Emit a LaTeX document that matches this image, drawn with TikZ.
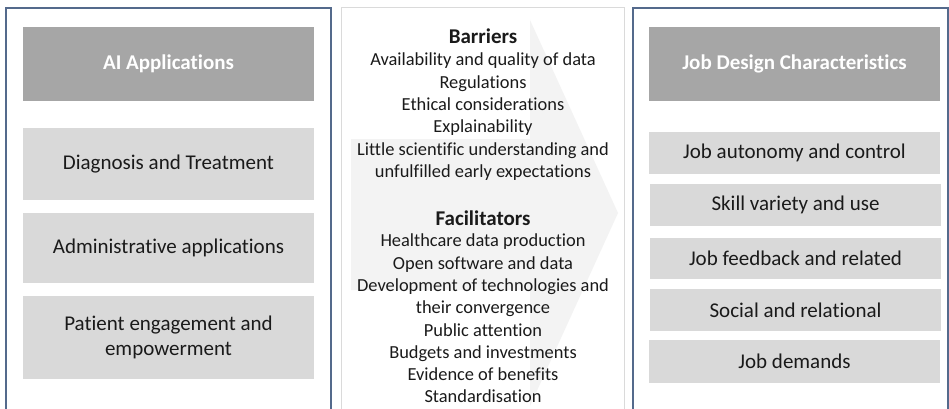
\documentclass[tikz,border=0pt]{standalone}
\usepackage{fontspec}
\setmainfont[Ligatures={NoCommon}]{Carlito}
\usepackage{tikz}
\usetikzlibrary{positioning, calc}
\definecolor{panelblue}{RGB}{84, 106, 140}
\definecolor{panelgray}{RGB}{218, 218, 218}
\definecolor{headgray}{RGB}{166, 166, 166}
\definecolor{boxgray}{RGB}{217, 217, 217}
\definecolor{arrowgray}{RGB}{243, 243, 243}
\definecolor{inkgray}{RGB}{26, 26, 26}

\tikzset{
  panel/.style={draw=panelblue, line width=1.3pt, fill=white},
  midpanel/.style={draw=panelgray, line width=1pt, fill=white},
  headbox/.style={fill=headgray, minimum width=291pt, minimum height=74pt, inner sep=0pt,
    text=white, font=\fontsize{21}{25}\selectfont\bfseries},
  itembox/.style={fill=boxgray, minimum width=291pt, inner sep=0pt, align=center,
    text=inkgray, font=\fontsize{21}{25}\selectfont},
  factor/.style={anchor=base, inner sep=0pt, text=inkgray, font=\fontsize{18.4}{22}\selectfont},
  factorhead/.style={factor, font=\fontsize{21}{25}\selectfont\bfseries}
}

\begin{document}
\begin{tikzpicture}[x=1pt, y=-1pt]
  \useasboundingbox (0,0) rectangle (949,409);
  \clip (0,0) rectangle (949,409);

  % three panels
  \draw[panel] (6,8) rectangle (331,420);
  \draw[midpanel] (341,8) rectangle (624,420);
  \draw[panel] (633,8) rectangle (948,420);

  % background arrow
  \fill[arrowgray] (351,139) -- (530,139) -- (530,20) -- (618,213) -- (530,406) -- (530,290) -- (351,290) -- cycle;

  % AI applications
  \node[headbox] (aiapps) at (168.5,64) {AI Applications};
  \node[itembox, minimum height=72pt] (diagnosis) at (168.5,164) {Diagnosis and Treatment};
  \node[itembox, minimum height=70pt] (admin) at (168.5,248) {Administrative applications};
  \node[itembox, minimum height=83pt] (patient) at (168.5,337) {Patient engagement and\\empowerment};

  % barriers and facilitators
  \node[factorhead] (barriers) at (483,44) {Barriers};
  \foreach \txt [count=\i] in {Availability and quality of data, Regulations, Ethical considerations,
      Explainability, Little scientific understanding and, unfulfilled early expectations}
    \node[factor] (bar\i) at (483,43.5+\i*22.3) {\txt};
  \node[factorhead] (facilitators) at (483,225) {Facilitators};
  \foreach \txt [count=\i] in {Healthcare data production, Open software and data,
      Development of technologies and, their convergence, Public attention,
      Budgets and investments, Evidence of benefits, Standardisation}
    \node[factor] (fac\i) at (483,224.5+\i*22.3) {\txt};

  % job design characteristics
  \node[headbox] (jobdesign) at (794.5,64) {Job Design Characteristics};
  \node[itembox, minimum height=42pt] (autonomy) at (794.5,153) {Job autonomy and control};
  \node[itembox, minimum height=42pt] (skill) at (795.5,205) {Skill variety and use};
  \node[itembox, minimum height=41pt] (feedback) at (795.5,258.5) {Job feedback and related};
  \node[itembox, minimum height=42pt] (social) at (795.5,310) {Social and relational};
  \node[itembox, minimum height=43pt] (demands) at (794.5,361.5) {Job demands};
\end{tikzpicture}
\end{document}
